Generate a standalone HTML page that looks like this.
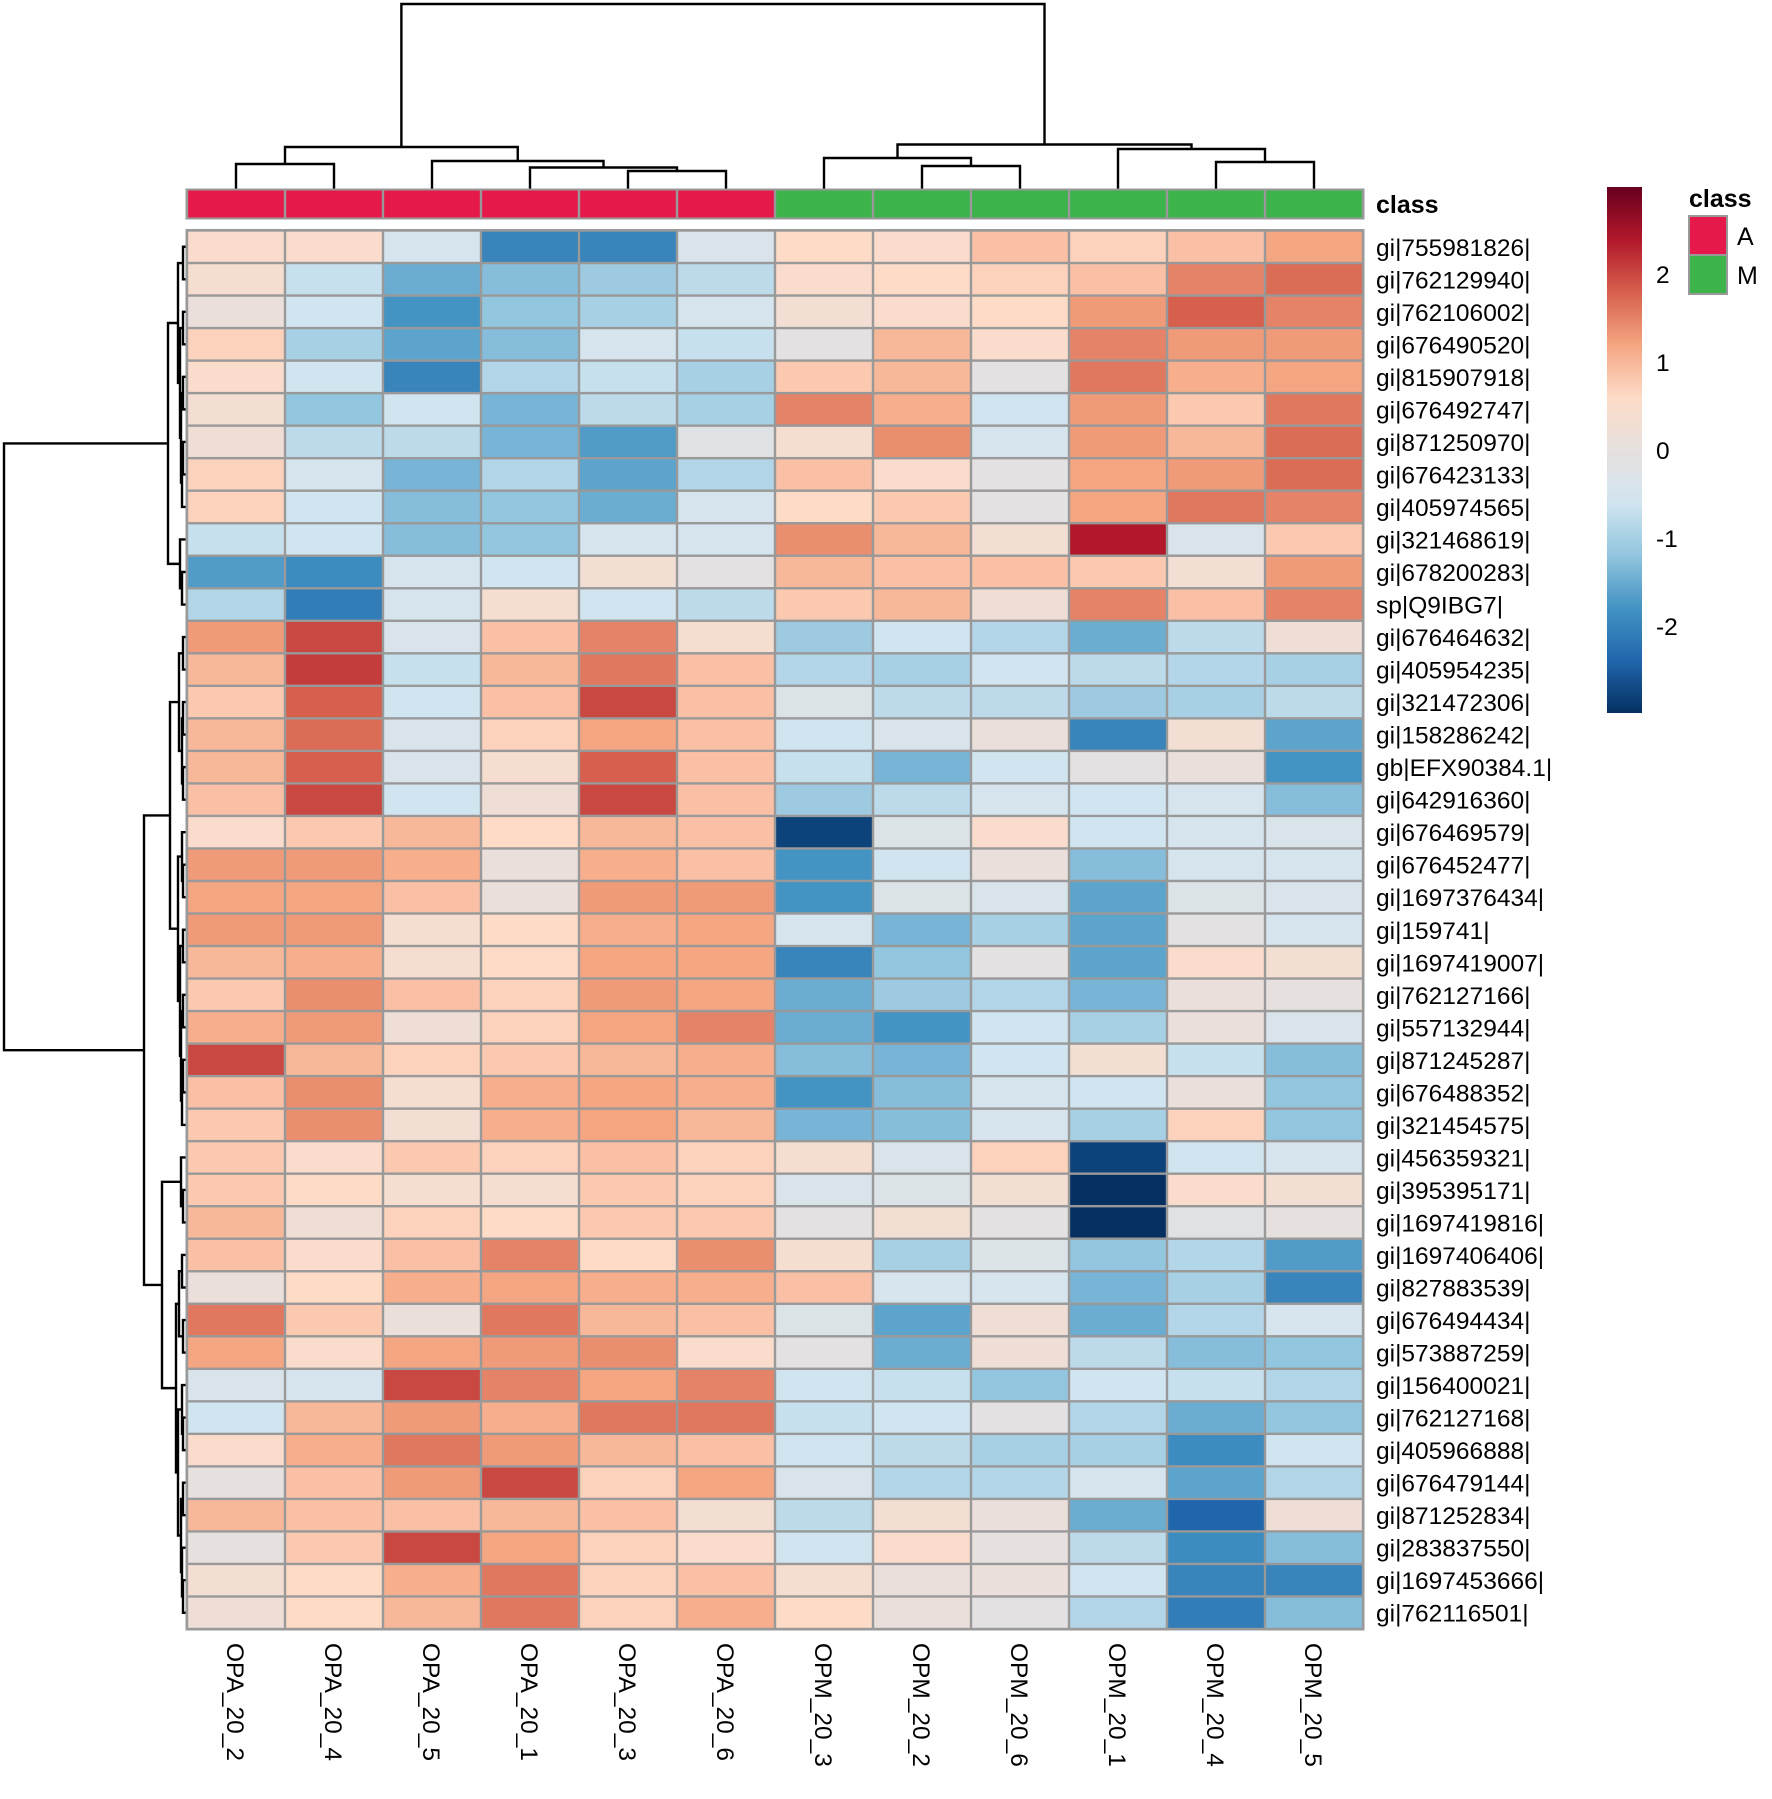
<!DOCTYPE html>
<html><head><meta charset="utf-8">
<style>
html,body{margin:0;padding:0;background:#fff;}
svg{display:block;font-family:"Liberation Sans",sans-serif;}
</style></head>
<body>
<svg id="chart" width="1772" height="1799" viewBox="0 0 1772 1799" xmlns="http://www.w3.org/2000/svg">
<defs>
<linearGradient id="cbgrad" x1="0" y1="1" x2="0" y2="0">
<stop offset="0" stop-color="#053061"/><stop offset="0.1" stop-color="#2166ac"/>
<stop offset="0.2" stop-color="#4393c3"/><stop offset="0.3" stop-color="#92c5de"/>
<stop offset="0.4" stop-color="#d1e5f0"/><stop offset="0.5" stop-color="#e6e0de"/>
<stop offset="0.6" stop-color="#fddbc7"/><stop offset="0.7" stop-color="#f4a582"/>
<stop offset="0.8" stop-color="#d6604d"/><stop offset="0.9" stop-color="#b2182b"/>
<stop offset="1" stop-color="#67001f"/>
</linearGradient>
</defs>
<g id="dendro-top"></g>
<g id="dendro-left"></g>
<g id="classbar"></g>
<g id="cells"></g>
<g id="rowlabels"></g>
<g id="collabels"></g>
<text x="1376" y="213" font-size="25" font-weight="bold">class</text>
<g>
<rect x="1607" y="187" width="35" height="526" fill="url(#cbgrad)"/>
<g id="cbticks"></g>
</g>
<g>
<text x="1689" y="207" font-size="25" font-weight="bold">class</text>
<rect x="1688" y="215" width="40" height="80" fill="#999"/>
<rect x="1690" y="217" width="36" height="37" fill="#e5194a"/>
<rect x="1690" y="256" width="36" height="37" fill="#3db44b"/>
<text x="1737" y="245" font-size="25">A</text>
<text x="1737" y="284" font-size="25">M</text>
</g>
</svg>
<script>
const columns = ["OPA_20_2","OPA_20_4","OPA_20_5","OPA_20_1","OPA_20_3","OPA_20_6","OPM_20_3","OPM_20_2","OPM_20_6","OPM_20_1","OPM_20_4","OPM_20_5"];
const columnClass = ["A","A","A","A","A","A","M","M","M","M","M","M"];
const rows = ["gi|755981826|","gi|762129940|","gi|762106002|","gi|676490520|","gi|815907918|","gi|676492747|","gi|871250970|","gi|676423133|","gi|405974565|","gi|321468619|","gi|678200283|","sp|Q9IBG7|","gi|676464632|","gi|405954235|","gi|321472306|","gi|158286242|","gb|EFX90384.1|","gi|642916360|","gi|676469579|","gi|676452477|","gi|1697376434|","gi|159741|","gi|1697419007|","gi|762127166|","gi|557132944|","gi|871245287|","gi|676488352|","gi|321454575|","gi|456359321|","gi|395395171|","gi|1697419816|","gi|1697406406|","gi|827883539|","gi|676494434|","gi|573887259|","gi|156400021|","gi|762127168|","gi|405966888|","gi|676479144|","gi|871252834|","gi|283837550|","gi|1697453666|","gi|762116501|"];
const values = [
[0.5,0.5,-0.5,-2,-2,-0.4,0.6,0.5,0.9,0.7,0.9,1.2],
[0.4,-0.7,-1.5,-1.3,-1.1,-0.8,0.5,0.6,0.7,0.9,1.5,1.7],
[0.1,-0.6,-1.8,-1.2,-1.0,-0.5,0.3,0.5,0.6,1.3,1.8,1.5],
[0.7,-1.0,-1.6,-1.3,-0.5,-0.7,-0.1,1.0,0.5,1.5,1.3,1.3],
[0.5,-0.6,-2.0,-0.9,-0.7,-1.0,0.8,1.0,-0.1,1.6,1.1,1.2],
[0.3,-1.2,-0.6,-1.4,-0.8,-1.0,1.5,1.1,-0.6,1.3,0.8,1.6],
[0.2,-0.8,-0.8,-1.4,-1.7,-0.2,0.4,1.4,-0.5,1.3,1.0,1.7],
[0.7,-0.5,-1.4,-0.9,-1.6,-0.9,0.9,0.5,-0.1,1.2,1.3,1.7],
[0.7,-0.6,-1.3,-1.2,-1.5,-0.5,0.6,0.8,-0.1,1.2,1.6,1.5],
[-0.7,-0.6,-1.3,-1.2,-0.5,-0.5,1.4,1.0,0.3,2.4,-0.4,0.8],
[-1.7,-1.9,-0.5,-0.6,0.3,-0.1,1.0,0.9,0.9,0.8,0.3,1.3],
[-0.9,-2.1,-0.5,0.4,-0.6,-0.8,0.8,1.0,0.2,1.5,0.9,1.5],
[1.3,2.0,-0.4,0.9,1.5,0.4,-1.1,-0.6,-0.9,-1.5,-0.8,0.2],
[1.0,2.1,-0.7,1.0,1.6,0.9,-0.9,-1.0,-0.6,-0.8,-0.9,-1.0],
[0.8,1.8,-0.6,0.9,2.0,0.9,-0.3,-0.8,-0.8,-1.1,-1.0,-0.8],
[1.0,1.7,-0.4,0.7,1.2,0.9,-0.6,-0.4,0.1,-2.0,0.3,-1.6],
[1.0,1.8,-0.4,0.4,1.8,0.9,-0.7,-1.4,-0.6,-0.1,0.1,-1.8],
[0.9,2.0,-0.6,0.2,2.0,0.9,-1.1,-0.8,-0.5,-0.6,-0.5,-1.3],
[0.5,0.8,1.0,0.6,1.0,0.9,-2.8,-0.3,0.5,-0.6,-0.5,-0.4],
[1.3,1.3,1.1,0.1,1.1,0.9,-1.8,-0.6,0.1,-1.3,-0.5,-0.5],
[1.2,1.2,0.9,0.1,1.3,1.3,-1.8,-0.3,-0.4,-1.6,-0.3,-0.4],
[1.3,1.3,0.4,0.6,1.1,1.2,-0.5,-1.4,-1.0,-1.6,-0.1,-0.5],
[1.0,1.1,0.4,0.6,1.2,1.2,-2.0,-1.2,-0.1,-1.6,0.5,0.3],
[0.8,1.4,0.9,0.7,1.3,1.2,-1.5,-1.1,-0.9,-1.4,0.1,0.0],
[1.1,1.3,0.2,0.7,1.2,1.5,-1.5,-1.8,-0.6,-1.0,0.1,-0.4],
[2.0,1.0,0.7,0.8,1.0,1.1,-1.3,-1.4,-0.6,0.3,-0.7,-1.3],
[0.9,1.4,0.4,1.1,1.2,1.1,-1.8,-1.3,-0.5,-0.6,0.1,-1.2],
[0.8,1.4,0.3,1.1,1.2,1.0,-1.4,-1.3,-0.5,-1.0,0.7,-1.2],
[0.8,0.5,0.8,0.7,0.9,0.7,0.4,-0.4,0.7,-2.8,-0.6,-0.5],
[0.8,0.6,0.4,0.4,0.8,0.7,-0.4,-0.3,0.3,-3.0,0.5,0.3],
[1.0,0.2,0.7,0.6,0.8,0.8,-0.1,0.3,-0.1,-3.0,-0.2,0.0],
[0.9,0.5,0.9,1.5,0.6,1.4,0.4,-1.0,-0.3,-1.2,-0.9,-1.7],
[0.1,0.6,1.1,1.2,1.1,1.1,0.9,-0.5,-0.5,-1.4,-1.0,-2.0],
[1.6,0.8,0.1,1.6,1.0,0.9,-0.3,-1.6,0.2,-1.5,-0.9,-0.5],
[1.2,0.5,1.2,1.3,1.4,0.5,-0.1,-1.5,0.2,-0.8,-1.3,-1.2],
[-0.4,-0.5,2.0,1.5,1.2,1.5,-0.6,-0.7,-1.2,-0.6,-0.7,-0.9],
[-0.6,1.0,1.3,1.1,1.6,1.6,-0.7,-0.6,-0.1,-0.9,-1.5,-1.2],
[0.5,1.1,1.6,1.3,1.0,0.9,-0.6,-0.8,-1.0,-1.0,-1.9,-0.6],
[0.0,0.9,1.3,2.0,0.7,1.2,-0.4,-0.9,-0.9,-0.5,-1.6,-0.9],
[1.0,0.9,0.9,1.0,0.9,0.3,-0.8,0.3,0.1,-1.5,-2.4,0.2],
[0.0,0.8,2.0,1.2,0.7,0.5,-0.6,0.5,0.0,-0.8,-1.9,-1.3],
[0.3,0.6,1.1,1.6,0.7,0.9,0.4,0.1,0.1,-0.6,-2.0,-2.0],
[0.2,0.6,1.0,1.6,0.7,1.1,0.6,0.1,-0.1,-0.9,-2.1,-1.3]
];
const colorTicks = [2,1,0,-1,-2];
// dendrogram merge trees: [left, right, height]
const colTree = [[[0,1,26],[2,[3,[4,5,19],22.5],29],43],[[6,[7,8,24],32],[9,[10,11,28],41],45.5],186];
const rowTree = [
 [[[0,1,3],[[2,3,3],[[4,5,3],[[6,7,3],8,4],5],6],8],[9,[10,11,4],6],18],
 [[[[12,13,3],[[14,15,3],[16,17,3],4],7],[[18,[19,20,3],4],[[21,22,3],[[23,24,3],[[25,26,3],27,4],5],6],8],16],
  [[28,[29,30,3],5],[[[31,32,4],[33,34,3],7],[[35,[36,37,3],4],[[38,39,3],[40,[41,42,3],4],5],8],10],24],42],
 182];

const NS="http://www.w3.org/2000/svg";
const X0=187, X1=1363, Y0=230.5, Y1=1629;
const colW=(X1-X0)/columns.length, rowH=(Y1-Y0)/rows.length;
const xOf=j=>X0+colW*(j+0.5), yOf=i=>Y0+rowH*(i+0.5);
const stops=[[-3,[5,48,97]],[-2.4,[33,102,172]],[-1.8,[67,147,195]],[-1.2,[146,197,222]],[-0.6,[209,229,240]],[0,[230,224,222]],[0.6,[253,219,199]],[1.2,[244,165,130]],[1.8,[214,96,77]],[2.4,[178,24,43]],[3,[103,0,31]]];
function color(v){
  v=Math.max(-3,Math.min(3,v));
  for(let k=0;k<stops.length-1;k++){const a=stops[k],b=stops[k+1];
    if(v<=b[0]){const t=(v-a[0])/(b[0]-a[0]);const c=a[1].map((x,i)=>Math.round(x+(b[1][i]-x)*t));return `rgb(${c})`;}}
  return "rgb(103,0,31)";
}
function mk(tag,attrs,parent){const e=document.createElementNS(NS,tag);for(const k in attrs)e.setAttribute(k,attrs[k]);parent.appendChild(e);return e;}

const cells=document.getElementById('cells');
mk('rect',{x:X0-1.5,y:Y0-1.5,width:X1-X0+3,height:Y1-Y0+3,fill:'#999'},cells);
values.forEach((row,i)=>row.forEach((v,j)=>{
  const r=mk('rect',{x:X0+colW*j+1.2,y:Y0+rowH*i+1.2,width:colW-2.4,height:rowH-2.4,fill:color(v)},cells);
  
  
}));

const cb=document.getElementById('classbar');
mk('rect',{x:X0-1.5,y:188.5,width:X1-X0+3,height:31,fill:'#999'},cb);
columnClass.forEach((c,j)=>{
  const r=mk('rect',{x:X0+colW*j+1.2,y:190.5,width:colW-2.4,height:27,fill:c==='A'?'#e5194a':'#3db44b'},cb);
  
  
});

const rl=document.getElementById('rowlabels');
rows.forEach((n,i)=>{
  const t=mk('text',{x:1376,y:yOf(i)+9,'font-size':24.5},rl);t.textContent=n;
  
  
});
const cl=document.getElementById('collabels');
columns.forEach((n,j)=>{
  const x=xOf(j)-9;const t=mk('text',{x:x,y:1643,'font-size':24.5,transform:`rotate(90 ${x} 1643)`},cl);t.textContent=n;
  
  
});

const cbt=document.getElementById('cbticks');
colorTicks.forEach(v=>{
  const t=mk('text',{x:1656,y:450-v*88+9,'font-size':24.5},cbt);t.textContent=v;
  
  
});

function draw(node,pos,hScale,g,horizontal){
  if(typeof node==='number')return {p:pos(node),h:0};
  const a=draw(node[0],pos,hScale,g,horizontal),b=draw(node[1],pos,hScale,g,horizontal),h=node[2];
  let d;
  if(!horizontal){
    const y=hScale(h),ya=hScale(a.h),yb=hScale(b.h);
    d=`M${a.p},${ya}V${y}H${b.p}V${yb}`;
  } else {
    const x=hScale(h),xa=hScale(a.h),xb=hScale(b.h);
    d=`M${xa},${a.p}H${x}V${b.p}H${xb}`;
  }
  const p=mk('path',{d:d,fill:'none',stroke:'#000','stroke-width':2.4},g);
  
  
  return {p:(a.p+b.p)/2,h:h};
}
draw(colTree,xOf,h=>190-h,document.getElementById('dendro-top'),false);
draw(rowTree,yOf,h=>186-h,document.getElementById('dendro-left'),true);
</script>
</body></html>
